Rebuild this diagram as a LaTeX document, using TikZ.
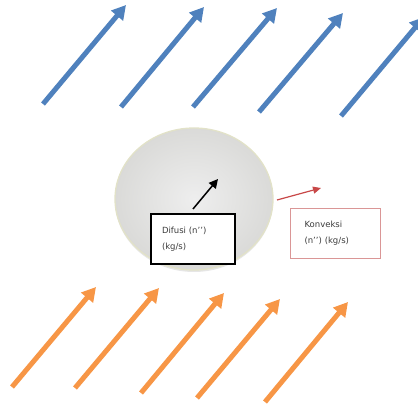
\documentclass[tikz,border=0pt]{standalone}
\usepackage{fontspec}
\setmainfont{DejaVu Sans}
\usetikzlibrary{arrows.meta,shapes.geometric,shadows}
\definecolor{flowblue}{RGB}{79,129,189}
\definecolor{floworange}{RGB}{247,150,70}
\definecolor{dropin}{RGB}{238,238,238}
\definecolor{dropout}{RGB}{218,218,216}
\definecolor{droprim}{RGB}{226,226,200}
\definecolor{convred}{RGB}{200,72,72}
\definecolor{convbox}{RGB}{218,150,150}
\definecolor{txtgray}{RGB}{60,60,60}
\tikzset{
  bluearrow/.style={draw=flowblue,line width=5pt,-{Triangle[length=14pt,width=15pt]}},
  orangearrow/.style={draw=floworange,line width=5pt,-{Triangle[length=14pt,width=15pt]}},
  dropnode/.style={ellipse,minimum width=158pt,minimum height=142pt,inner color=dropin,outer color=dropout,draw=droprim,line width=1.3pt,
    drop shadow={opacity=0.2,shadow xshift=0pt,shadow yshift=-2pt}},
  labelbox/.style={rectangle,minimum height=50pt,text width=62pt,align=left,font=\fontsize{8.5}{16}\selectfont,text=txtgray},
  difbox/.style={labelbox,draw=black,fill=white,line width=1.2pt,minimum width=84pt,inner xsep=11pt},
  konbox/.style={labelbox,draw=convbox,fill=white,line width=0.8pt,minimum width=85pt,inner xsep=14pt},
}
\begin{document}
\begin{tikzpicture}[x=1pt,y=-1pt]
\useasboundingbox (0,0) rectangle (418,406);
% blue arrows (top)
\coordinate (b1s) at (43,104);  \coordinate (b1e) at (126,5);
\coordinate (b2s) at (121,107); \coordinate (b2e) at (204,7);
\coordinate (b3s) at (193,107); \coordinate (b3e) at (277,8);
\coordinate (b4s) at (259,112); \coordinate (b4e) at (343,13);
\coordinate (b5s) at (341,116); \coordinate (b5e) at (424,17);
\foreach \i in {1,...,5} {\draw[bluearrow] (b\i s) -- (b\i e);}
% orange arrows (bottom)
\coordinate (o1s) at (12,387);  \coordinate (o1e) at (96,287);
\coordinate (o2s) at (75,388);  \coordinate (o2e) at (159,288);
\coordinate (o3s) at (141,393); \coordinate (o3e) at (224,293);
\coordinate (o4s) at (197,398); \coordinate (o4e) at (280,299);
\coordinate (o5s) at (265,402); \coordinate (o5e) at (348,302);
\foreach \i in {1,...,5} {\draw[orangearrow] (o\i s) -- (o\i e);}
% droplet
\node[dropnode] (drop) at (194,199) {};
% diffusion arrow
\coordinate (ds) at (193,209); \coordinate (de) at (218,179);
\draw[black,line width=1.5pt,-{Triangle[length=9pt,width=9pt]}] (ds) -- (de);
\node[difbox] (dif) at (193,239) {Difusi (n’’)\\(kg/s)};
% convection arrow
\coordinate (cs) at (277,200); \coordinate (ce) at (321,188);
\draw[convred,line width=1.2pt,-{Triangle[length=8pt,width=7pt]}] (cs) -- (ce);
\node[konbox] (kon) at (335.5,233) {Konveksi\\(n’’) (kg/s)};
\end{tikzpicture}
\end{document}
